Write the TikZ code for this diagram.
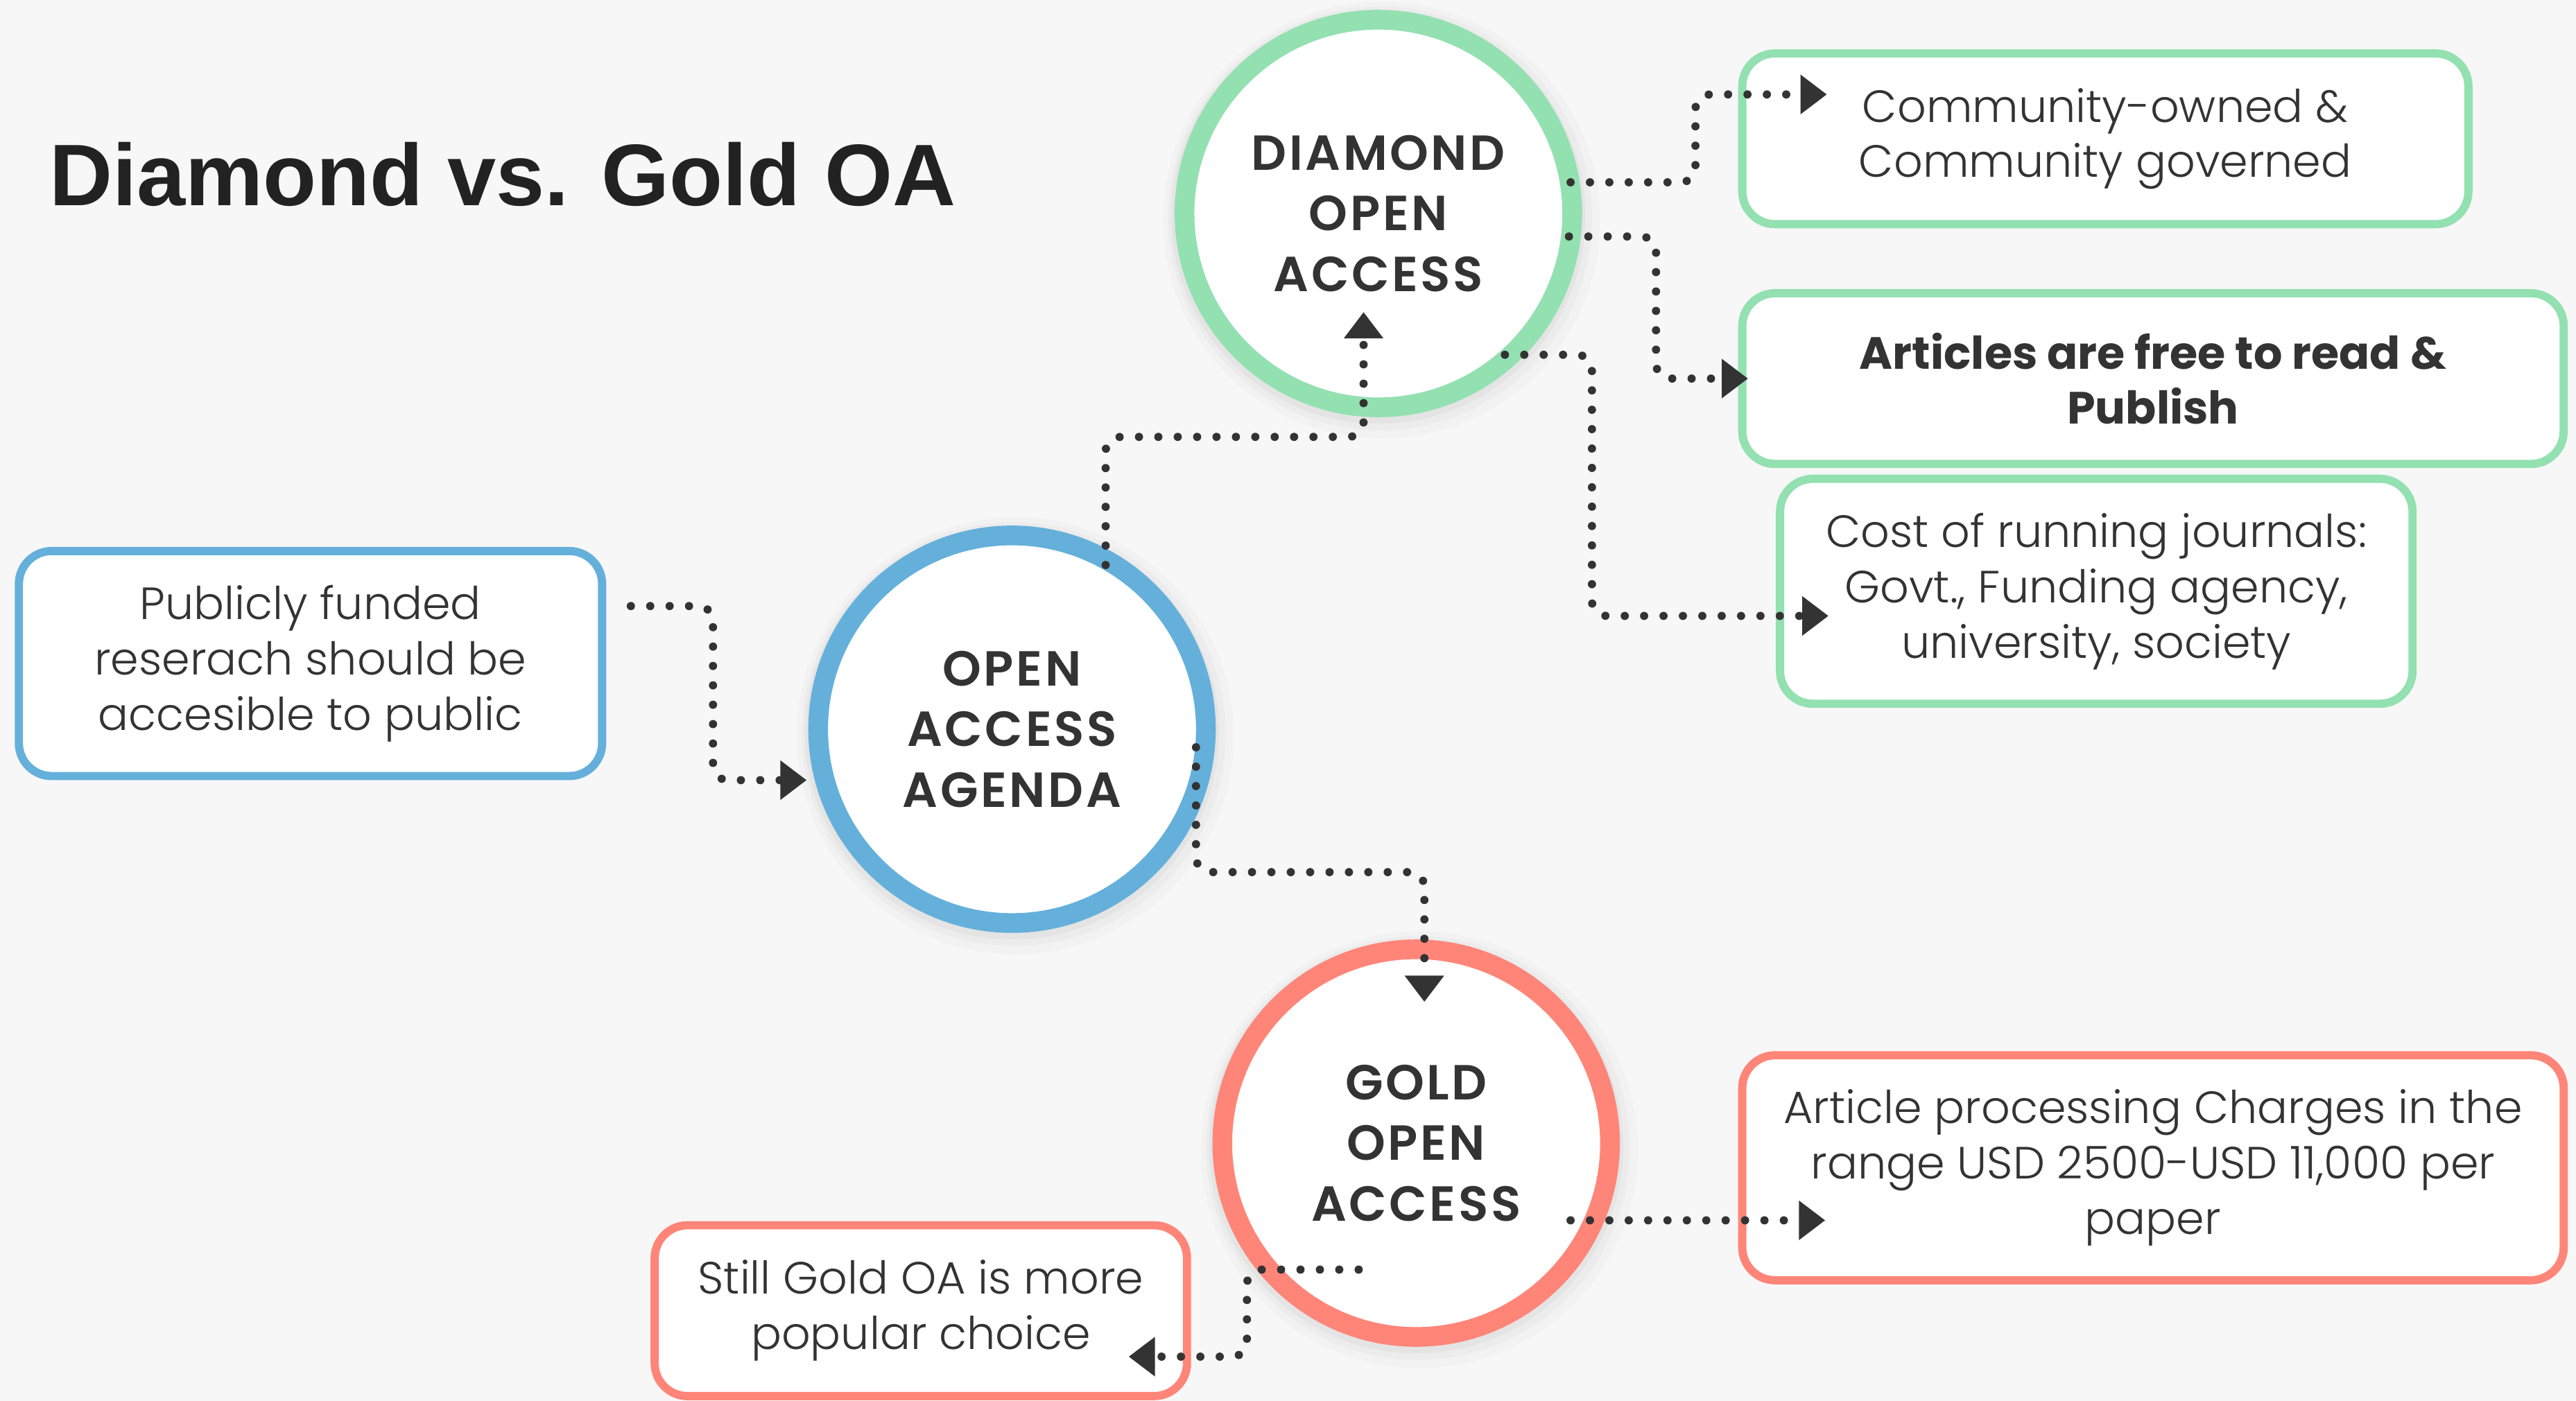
\documentclass[tikz,border=0pt]{standalone}
\usepackage{fontspec}
\setmainfont{Poppins}
\newfontfamily\titlefont{Liberation Sans}
\newfontfamily\lightfont{Poppins Light}
\newfontfamily\boldfont{Poppins Bold}
\newfontfamily\circfont{Poppins SemiBold}[LetterSpace=5]
\usetikzlibrary{arrows.meta,calc}
\definecolor{bg}{HTML}{F7F7F7}
\definecolor{ink}{HTML}{333333}
\definecolor{titleink}{HTML}{222222}
\definecolor{mint}{HTML}{93E0B1}
\definecolor{sky}{HTML}{64B0DB}
\definecolor{coral}{HTML}{FF8579}
\begin{document}
\begin{tikzpicture}[x=1pt,y=-1pt,
  ring/.style={circle, draw=#1, line width=12pt, fill=white, minimum size=236pt,
    inner sep=0pt, outer sep=0pt, text=ink, align=center,
    font=\circfont\fontsize{30}{37}\selectfont},
  box/.style={rectangle, rounded corners=20pt, draw=#1, line width=5pt, fill=white,
    inner sep=0pt, text=ink, align=center,
    font=\lightfont\fontsize{27.5}{33.7}\selectfont},
  conn/.style={draw=ink, line width=5pt, line cap=round,
    dash pattern=on 0pt off 11.8pt, rounded corners=9pt,
    -{Triangle[length=16pt,width=23pt]}},
  shade/.style={fill=black, opacity=#1, draw=none},
]
\fill[bg] (0,0) rectangle (1568,853);
\useasboundingbox (0,0) rectangle (1568,853);

% title
\node[anchor=base west, inner sep=0pt, text=titleink,
  font=\titlefont\bfseries\fontsize{53.2}{60}\selectfont] (title) at (30,125) {Diamond vs. Gold OA};

% soft shadows behind circles
\foreach \cx/\cy in {839/130, 616/444, 862/696}{
  \fill[shade=0.018] (\cx+2,\cy+4) circle (133);
  \fill[shade=0.025] (\cx+1,\cy+3) circle (129);
  \fill[shade=0.03] (\cx,\cy+2) circle (126);
}

% circles
\node[ring=mint] (diamond) at (839,130) {DIAMOND\\OPEN\\ACCESS};
\node[ring=sky] (oaa) at (616,444) {OPEN\\ACCESS\\AGENDA};
\node[ring=coral] (gold) at (862,696) {GOLD\\OPEN\\ACCESS};

% boxes
\node[box=mint, minimum width=442pt, minimum height=104pt] (comm) at (1281.5,84.5)
  {Community-owned \&\\Community governed};
\node[box=mint, minimum width=500pt, minimum height=104pt,
  font=\boldfont\fontsize{27.5}{33}\selectfont] (art) at (1310.5,230.5)
  {Articles are free to read \&\\Publish};
\node[box=mint, minimum width=385pt, minimum height=137pt] (cost) at (1276,360)
  {Cost of running journals:\\Govt., Funding agency,\\university, society};
\node[box=sky, minimum width=355pt, minimum height=137pt] (pub) at (189,404)
  {Publicly funded\\reserach should be\\accesible to public};
\node[box=coral, minimum width=500pt, minimum height=137pt] (apc) at (1310.5,711)
  {Article processing Charges in the\\range USD 2500-USD 11,000 per\\paper};
\node[box=coral, minimum width=324pt, minimum height=104pt] (still) at (560.5,798)
  {Still Gold OA is more\\popular choice};

% connectors
\draw[conn] ([shift={(15,-35)}]pub.east) -- ++(50,0) |- ([shift={(-125,31)}]oaa.center);
\draw[conn] ([shift={(57,-100)}]oaa.center) |- ([shift={(-9,136)}]diamond.center)
  -- ([shift={(-9,60)}]diamond.center);
\draw[conn] ([shift={(117,-19)}]diamond.center) -- ++(76,0) |- ([shift={(54,-27)}]comm.west);
\draw[conn] ([shift={(116,14)}]diamond.center) -- ++(53,0) |- ([shift={(6,0)}]art.west);
\draw[conn] ([shift={(77,86)}]diamond.center) -- ++(53,0) |- ([shift={(32,15)}]cost.west);
\draw[conn] ([shift={(112,11)}]oaa.center) -- ++(0,76) -| ([shift={(5,-86)}]gold.center);
\draw[conn] ([shift={(94,47)}]gold.center) -- ([shift={(53,32)}]apc.west);
\draw[conn] ([shift={(-35,77)}]gold.center) -- ++(-68,0) |- ([shift={(-38,28)}]still.east);
\end{tikzpicture}
\end{document}
